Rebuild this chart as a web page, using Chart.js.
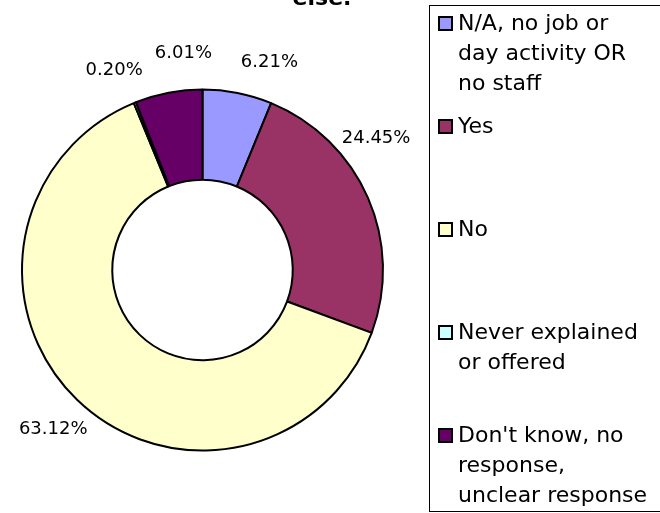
<!DOCTYPE html>
<html lang="en">
<head>
    <meta charset="UTF-8">
    <title>Explained or offered</title>
    <script src="https://cdn.jsdelivr.net/npm/chart.js"></script>
    <style>
        body { margin: 0; background: #fff; }
        #chartBox { width: 660px; height: 513px; }
    </style>
</head>
<body>
<div id="chartBox"><canvas id="chart" width="660" height="513"></canvas></div>
<script>
// chart data
const categories = [
  ['N/A, no job or', 'day activity OR', 'no staff'],
  ['Yes'],
  ['No'],
  ['Never explained', 'or offered'],
  ["Don't know, no", 'response,', 'unclear response']
];
const percents = [6.21, 24.45, 63.12, 0.20, 6.01];
const sliceColors = ['#9999FF', '#993366', '#FFFFCC', '#CCFFFF', '#660066'];
const titleText = 'else.';

// label nudges in degrees (Excel moved some labels a bit)
const labelShift = [6.7, -13.6, -0.8, -1.9, 5.8];
const labelDistance = 218;

const FONT = '"DejaVu Sans", Verdana, sans-serif';

const extras = {
  id: 'extras',
  afterDraw(chart) {
    const ctx = chart.ctx;
    const meta = chart.getDatasetMeta(0);
    const values = chart.data.datasets[0].data;
    ctx.save();

    // percentage labels around the ring
    ctx.fillStyle = '#000';
    ctx.font = '18px ' + FONT;
    ctx.textAlign = 'center';
    ctx.textBaseline = 'middle';
    meta.data.forEach(function(arc, i) {
      const a = (arc.startAngle + arc.endAngle) / 2 + labelShift[i] * Math.PI / 180;
      ctx.fillText(values[i].toFixed(2) + '%',
        arc.x + Math.cos(a) * labelDistance,
        arc.y + Math.sin(a) * labelDistance);
    });

    // title (only the tail is visible)
    ctx.font = 'bold 22px ' + FONT;
    ctx.textBaseline = 'alphabetic';
    ctx.fillText(titleText, 322, 5);

    // legend box
    ctx.strokeStyle = '#000';
    ctx.lineWidth = 1;
    ctx.strokeRect(429.5, 5.5, 240, 506);

    ctx.font = '22px ' + FONT;
    ctx.textAlign = 'left';
    ctx.textBaseline = 'middle';
    chart.data.labels.forEach(function(lines, i) {
      const y0 = 24 + i * 103;
      ctx.fillStyle = sliceColors[i];
      ctx.fillRect(439, y0 - 7, 13, 13);
      ctx.lineWidth = 2;
      ctx.strokeRect(439, y0 - 7, 13, 13);
      ctx.fillStyle = '#000';
      lines.forEach(function(t, k) {
        ctx.fillText(t, 458, y0 + k * 30);
      });
    });
    ctx.restore();
  }
};

new Chart(document.getElementById('chart'), {
  type: 'doughnut',
  data: {
    labels: categories,
    datasets: [{
      data: percents,
      backgroundColor: sliceColors,
      borderColor: '#000',
      borderWidth: 2
    }]
  },
  options: {
    responsive: false,
    animation: false,
    events: [],
    cutout: '50%',
    radius: 180.5,
    layout: { padding: { left: 0, right: 255, top: 27, bottom: 0 } },
    plugins: {
      legend: { display: false },
      tooltip: { enabled: false },
      title: { display: false }
    }
  },
  plugins: [extras]
});
</script>
</body>
</html>
